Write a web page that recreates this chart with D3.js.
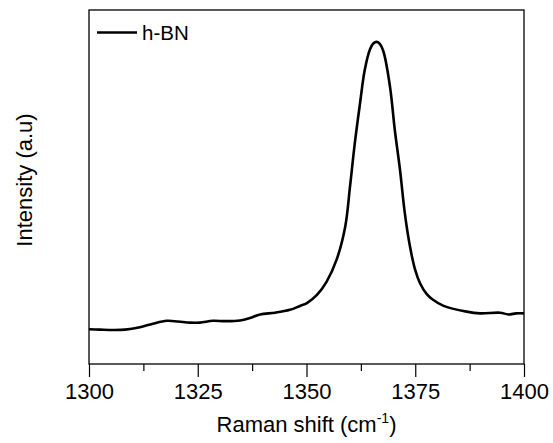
<!DOCTYPE html>
<html><head><meta charset="utf-8">
<script src="https://cdn.jsdelivr.net/npm/d3@7"></script>
<style>body{margin:0;background:#fff}svg{display:block}text{font-family:Arial,"Liberation Sans",sans-serif;fill:#000}</style>
</head><body>
<script>
const seriesName = "h-BN";
const ramanShift = [1300,1302.5,1305.5,1308.3,1311.7,1314.7,1317.9,1320.5,1323.2,1325.5,1328.5,1331.3,1334.7,1337.0,1339.3,1342.8,1346.2,1348.5,1350.1,1352.4,1354.6,1356.9,1358.9,1360.0,1361.1,1362.3,1363.4,1364.6,1365.4,1366.1,1366.8,1367.7,1369.2,1370.3,1371.5,1372.6,1373.8,1375.0,1376.1,1377.6,1379.0,1381.4,1386.8,1389.9,1394.5,1396.4,1398.2,1400];
const intensity = [9.8,9.7,9.6,9.7,10.4,11.4,12.2,12.0,11.7,11.7,12.2,12.1,12.3,13.0,14.0,14.5,15.3,16.4,17.2,19.5,23.2,29.4,38.8,50.1,62.3,73.6,83.1,88.9,90.6,91.0,90.5,88.2,78.3,66.1,54.8,42.6,33.1,26.5,22.8,19.8,18.2,16.5,14.8,14.3,14.5,14.0,14.3,14.3];
const xTicks = [1300,1325,1350,1375,1400];
const xMinorTicks = [1312.5,1337.5,1362.5,1387.5];

const W=553,H=443, L=89, R=524, T=10, B=364;
const svg=d3.select("body").append("svg").attr("width",W).attr("height",H);
const x=d3.scaleLinear().domain([1300,1400]).range([L,R]);
const y=d3.scaleLinear().domain([0,100]).range([B,T]);

// axes
const xa=svg.append("g").attr("transform",`translate(0,${B})`)
  .call(d3.axisBottom(x).tickValues(xTicks).tickSize(13).tickPadding(6).tickFormat(d3.format("d")));
xa.select(".domain").remove();
xa.selectAll("line").attr("stroke","#000").attr("stroke-width",1.2);
xa.selectAll("text").attr("font-size","22px").attr("font-family","Arial, 'Liberation Sans', sans-serif").attr("fill","#000");
const xm=svg.append("g").attr("transform",`translate(0,${B})`)
  .call(d3.axisBottom(x).tickValues(xMinorTicks).tickSize(7).tickFormat(""));
xm.select(".domain").remove();
xm.selectAll("line").attr("stroke","#000").attr("stroke-width",1.2);

// frame
svg.append("rect").attr("x",L).attr("y",T).attr("width",R-L).attr("height",B-T)
  .attr("fill","none").attr("stroke","#000").attr("stroke-width",1.3);

// line
const data=ramanShift.map((d,i)=>[d,intensity[i]]);
svg.append("path").datum(data).attr("fill","none").attr("stroke","#000").attr("stroke-width",2.6)
  .attr("stroke-linejoin","round")
  .attr("d",d3.line().x(d=>x(d[0])).y(d=>y(d[1])).curve(d3.curveCatmullRom.alpha(0.5)));

// legend
svg.append("line").attr("x1",97).attr("x2",137).attr("y1",32.5).attr("y2",32.5).attr("stroke","#000").attr("stroke-width",2.6);
svg.append("text").attr("x",142).attr("y",39.5).attr("font-size","20.5px").text(seriesName);

// x title
const xt=svg.append("text").attr("x",(L+R)/2).attr("y",432).attr("text-anchor","middle").attr("font-size","22px");
xt.append("tspan").text("Raman shift (cm");
xt.append("tspan").attr("dy",-9).attr("font-size","14px").text("-1");
xt.append("tspan").attr("dy",9).text(")");

// y title
svg.append("text").attr("transform","translate(32,180) rotate(-90)").attr("text-anchor","middle")
  .attr("font-size","22px").text("Intensity (a.u)");
</script>
</body></html>
